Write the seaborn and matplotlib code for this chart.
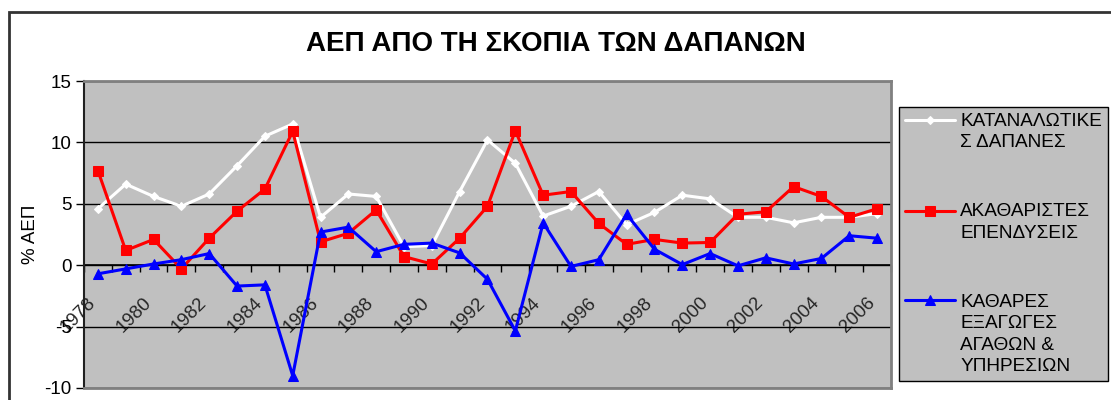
import numpy as np
import pandas as pd
import matplotlib
matplotlib.use("Agg")
import matplotlib.pyplot as plt
import seaborn as sns
from matplotlib.patches import Rectangle
from matplotlib.legend_handler import HandlerLine2D
from matplotlib.transforms import ScaledTranslation

# ---------------- data ----------------
years = list(range(1978, 2007))
consumption = [4.6, 6.6, 5.6, 4.8, 5.8, 8.1, 10.5, 11.5, 3.9, 5.8, 5.6,
               1.5, 1.6, 6.0, 10.2, 8.3, 4.0, 4.8, 6.0, 3.3, 4.3,
               5.7, 5.4, 3.9, 3.9, 3.45, 3.9, 3.9, 4.2]
investment = [7.7, 1.2, 2.1, -0.3, 2.2, 4.4, 6.2, 10.9, 1.9, 2.6, 4.5,
              0.7, 0.1, 2.2, 4.8, 10.95, 5.7, 6.0, 3.4, 1.7, 2.1,
              1.8, 1.85, 4.15, 4.35, 6.4, 5.6, 3.9, 4.6]
net_exports = [-0.7, -0.3, 0.1, 0.45, 0.95, -1.7, -1.6, -9.0, 2.7, 3.1, 1.1,
               1.7, 1.8, 1.0, -1.15, -5.35, 3.45, -0.1, 0.45, 4.15, 1.3,
               0.05, 0.95, -0.05, 0.6, 0.1, 0.55, 2.4, 2.2]
series_names = ["ΚΑΤΑΝΑΛΩΤΙΚΕΣ ΔΑΠΑΝΕΣ", "ΑΚΑΘΑΡΙΣΤΕΣ ΕΠΕΝΔΥΣΕΙΣ",
                "ΚΑΘΑΡΕΣ ΕΞΑΓΩΓΕΣ ΑΓΑΘΩΝ & ΥΠΗΡΕΣΙΩΝ"]
legend_labels = ["ΚΑΤΑΝΑΛΩΤΙΚΕ\nΣ ΔΑΠΑΝΕΣ", "ΑΚΑΘΑΡΙΣΤΕΣ\nΕΠΕΝΔΥΣΕΙΣ",
                 "ΚΑΘΑΡΕΣ\nΕΞΑΓΩΓΕΣ\nΑΓΑΘΩΝ &\nΥΠΗΡΕΣΙΩΝ"]
title = "ΑΕΠ ΑΠΟ ΤΗ ΣΚΟΠΙΑ ΤΩΝ ΔΑΠΑΝΩΝ"
ylabel = "% ΑΕΠ"
yticks = [-10, -5, 0, 5, 10, 15]
xtick_years = list(range(1978, 2007, 2))

# ---------------- style ----------------
sns.set_theme(style="white")
plt.rcParams["font.family"] = ["Liberation Sans", "DejaVu Sans"]

colors = ["#FFFFFF", "#FF0000", "#0000FF"]
markers = ["D", "s", "^"]
msizes = [4.5, 6.5, 7.5]
values = [consumption, investment, net_exports]
tick_fs = 13.5

fig = plt.figure(figsize=(11.11, 4.0), dpi=100)
fig.patch.set_facecolor("white")
ax = fig.add_axes([84 / 1111, 1 - 388 / 400, (891 - 84) / 1111, (388 - 81) / 400])
ax.set_facecolor("#C0C0C0")

for name, vals, c, m, ms in zip(series_names, values, colors, markers, msizes):
    df = pd.DataFrame({"year": years, "value": vals})
    sns.lineplot(data=df, x="year", y="value", ax=ax, color=c, marker=m,
                 markersize=ms, markeredgecolor=c, markerfacecolor=c,
                 linewidth=2.2, label=name, legend=False, zorder=3)

ax.set_xlim(years[0] - 0.5, years[-1] + 0.5)
ax.set_ylim(-10, 15)
ax.set_yticks(yticks)
ax.set_yticklabels([str(v) for v in yticks], fontsize=tick_fs, color="black")
ax.tick_params(axis="y", direction="out", length=6, width=1, color="black", pad=3, left=True)
ax.yaxis.grid(True, color="black", linewidth=1)
ax.xaxis.grid(False)
ax.set_xlabel("")
ax.set_ylabel(ylabel, fontsize=tick_fs, labelpad=4, color="black")
ax.tick_params(axis="x", which="both", bottom=False, labelbottom=False)

for side in ["top", "right", "bottom"]:
    ax.spines[side].set_color("#808080")
    ax.spines[side].set_linewidth(2)
    ax.spines[side].set_visible(True)
ax.spines["left"].set_color("#202020")
ax.spines["left"].set_linewidth(1.5)
ax.spines["left"].set_visible(True)

# category (zero) axis
secax = ax.secondary_xaxis(10 / 25)
secax.spines["bottom"].set_color("black")
secax.spines["bottom"].set_linewidth(1.2)
secax.set_xticks(xtick_years)
secax.set_xticks([y - 0.5 for y in years] + [years[-1] + 0.5], minor=True)
secax.tick_params(axis="x", which="major", length=0, pad=21)
secax.tick_params(axis="x", which="minor", length=5, width=1, direction="out", color="black")
secax.set_xticklabels([str(y) for y in xtick_years], fontsize=tick_fs,
                      rotation=45, ha="right", va="top", rotation_mode="anchor")
off = ScaledTranslation(-11 / 100, 0, fig.dpi_scale_trans)
for lab in secax.get_xticklabels():
    lab.set_transform(lab.get_transform() + off)

# title
fig.text(0.5, 1 - 44 / 400, title, ha="center", va="center",
         fontsize=20, fontweight="bold", color="black")

# legend with handle aligned to first line of label
class FirstLineHandler(HandlerLine2D):
    def __init__(self, nlines, pitch, **kw):
        super().__init__(**kw)
        self.nlines = nlines
        self.pitch = pitch

    def create_artists(self, legend, orig_handle, xdescent, ydescent, width,
                       height, fontsize, trans):
        arts = super().create_artists(legend, orig_handle, xdescent, ydescent,
                                      width, height, fontsize, trans)
        shift = (self.nlines - 1) / 2 * fontsize * self.pitch
        for a in arts:
            a.set_ydata(np.asarray(a.get_ydata()) + shift)
        return arts

handles, _ = ax.get_legend_handles_labels()
lsp = 1.33
hmap = {h: FirstLineHandler(lab.count("\n") + 1, lsp * 0.889)
        for h, lab in zip(handles, legend_labels)}
leg = fig.legend(handles, legend_labels, loc="upper left",
                 bbox_to_anchor=(899 / 1111, 1 - 107 / 400),
                 bbox_transform=fig.transFigure, fontsize=13.7,
                 handlelength=2.65, handletextpad=0.28, borderpad=0.3,
                 labelspacing=2.75, frameon=True, fancybox=False, shadow=False,
                 framealpha=1, handler_map=hmap, borderaxespad=0)
leg.get_frame().set_facecolor("#C0C0C0")
leg.get_frame().set_edgecolor("black")
leg.get_frame().set_linewidth(1)
for t in leg.get_texts():
    t.set_linespacing(lsp)
    t.set_color("black")

# outer chart border
fig.patches.append(Rectangle((9 / 1111, -0.1), 2, 1 - 12 / 400 + 0.1,
                             transform=fig.transFigure, fill=False,
                             edgecolor="#333333", linewidth=2))

fig.savefig("out.png", dpi=100)
